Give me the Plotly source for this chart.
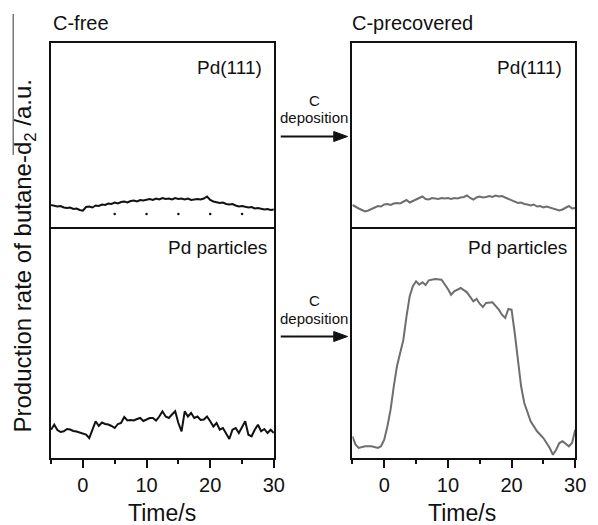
import plotly.graph_objects as go

# ---------------- data ----------------
t_half = [i * 0.5 - 5 for i in range(71)]  # -5 .. 30 s step 0.5

# C-free, Pd(111)  (black)
cfree_111 = [22, 21, 20.5, 21, 19.5, 19, 19.5, 18, 18.5, 17, 16.3, 20, 20.5, 19.5, 21.5, 21,
             22.5, 22, 23.5, 23, 24.5, 23.5, 25, 25.5, 24.5, 26, 26.5, 25.5, 27, 26.5, 27.5, 28,
             27, 28.5, 27.5, 29, 28, 28.5, 27.5, 29, 28, 28.5, 27.5, 28.5, 27, 27.5, 28, 27.5,
             28.5, 30.5, 27, 25.5, 25, 24, 24.5, 23, 22.5, 23, 21.5, 20.5, 21, 20, 19.5, 20,
             18.5, 19, 18.5, 17.5, 18, 17, 17.5]
dots_t = [5, 10, 15, 20, 25]
dots_v = [13, 13, 13, 13, 13]

# C-precovered, Pd(111)  (gray)
cpre_111 = [22, 20, 18.5, 17, 15.5, 16.5, 18, 19, 21, 20.5, 22.5, 23, 22, 23.5, 24, 23.5,
            25, 27, 24.5, 26, 27, 28.5, 30.5, 28, 27.5, 29, 28.5, 28, 29, 28.5, 29, 28,
            29, 28.5, 29.5, 30, 31.5, 29, 27.5, 29.5, 30.5, 29.5, 30, 31, 30, 31.5, 30.5, 31,
            29.5, 28, 26.5, 25.5, 24, 24.5, 23, 22.5, 21.5, 22.5, 20.5, 21, 19.5, 20.5, 19.5, 18,
            17, 16.5, 17.5, 19.5, 21, 18.5, 19]

# C-free, Pd particles  (black)
cfree_part = [28.3, 33.3, 28, 26, 26.7, 29, 28.5, 27, 26.5, 25.5, 25, 23.5, 20, 28, 36.7, 32,
              35.5, 34, 33.5, 32, 30, 34, 35, 41, 37.5, 38, 37.5, 39, 40, 37, 38.5, 40,
              40, 37.5, 41.5, 46.7, 41.5, 40, 43.5, 46.7, 35, 26.7, 46.7, 41.5, 45, 40, 41.5, 38,
              38.5, 41.5, 36.7, 31.5, 35, 28.3, 30, 24, 19, 28.3, 30, 25, 31.7, 36.7, 23.3, 21.7,
              28.3, 33.3, 26.7, 29, 25, 28.3, 25]

# C-precovered, Pd particles  (gray)
cpre_part_t = [-5, -4.5, -4, -3, -2, -1, -0.5, 0, 0.5, 1, 1.5, 2, 2.5, 3, 3.5, 4, 4.5, 5,
               5.5, 6, 6.5, 7, 8, 9, 10, 10.5, 11, 12, 13, 13.5, 14, 14.5, 15, 15.5, 16, 17,
               17.5, 18, 18.5, 19, 19.5, 20, 20.5, 21, 21.5, 22, 23, 24, 25, 26, 26.5, 27,
               27.5, 28, 29, 29.5, 30]
cpre_part = [21.7, 13.3, 10, 11.7, 11.7, 10, 11.7, 18.3, 31.7, 48.3, 71.7, 91.7, 105, 118,
             141.7, 161.7, 171.7, 176.7, 173.3, 175.7, 173, 177.7, 179, 178.3, 169, 163.3,
             166.7, 170, 165.7, 161.7, 156.7, 159, 154.3, 151, 155, 155.7, 152.3, 148.3,
             143.3, 140, 149, 148.3, 125, 95, 71.7, 55, 36.7, 26.7, 20, 10, 3.3, 8.3, 15,
             16.7, 11.7, 15, 28.3]

x_tickvals = [0, 10, 20, 30]
x_ticktext = ["0", "10", "20", "30"]

# ---------------- figure ----------------
W, H = 598, 525
FONT = "Liberation Sans, Arial, Helvetica, sans-serif"


def px(x):
    return x / W


def py(y):
    return 1 - y / H


XL = [px(52), px(279)]
XR = [px(359), px(586)]
YT = [py(227), py(43)]
YB = [py(458), py(227)]

BLACK = "#111111"
GRAY = "#6e6e6e"

fig = go.Figure()
fig.add_trace(go.Scatter(x=t_half, y=cfree_111, mode="lines", line=dict(color=BLACK, width=2),
                         xaxis="x", yaxis="y", showlegend=False))
fig.add_trace(go.Scatter(x=dots_t, y=dots_v, mode="markers", marker=dict(color=BLACK, size=2.5),
                         xaxis="x", yaxis="y", showlegend=False))
fig.add_trace(go.Scatter(x=t_half, y=cpre_111, mode="lines", line=dict(color=GRAY, width=2),
                         xaxis="x2", yaxis="y2", showlegend=False))
fig.add_trace(go.Scatter(x=t_half, y=cfree_part, mode="lines", line=dict(color=BLACK, width=2),
                         xaxis="x3", yaxis="y3", showlegend=False))
fig.add_trace(go.Scatter(x=cpre_part_t, y=cpre_part, mode="lines", line=dict(color=GRAY, width=2),
                         xaxis="x4", yaxis="y4", showlegend=False))

frame = dict(showline=True, linecolor=BLACK, linewidth=2, mirror=True, showgrid=False,
             zeroline=False)
top_x = dict(frame, range=[-5, 30], showticklabels=False, ticks="")
bot_x = dict(frame, mirror=False, range=[-5, 30], tickmode="array", tickvals=x_tickvals,
             ticktext=x_ticktext, ticks="outside", ticklen=8, tickwidth=1.5, tickcolor=BLACK,
             tickfont=dict(family=FONT, size=20, color=BLACK),
             minor=dict(tick0=-5, dtick=5, ticks="outside", ticklen=4, tickwidth=1.5,
                        tickcolor=BLACK, showgrid=False))
top_y = dict(frame, range=[0, 184], showticklabels=False, ticks="")
bot_y = dict(frame, range=[0, 231], showticklabels=False, ticks="")

fig.update_layout(
    width=W, height=H,
    margin=dict(l=0, r=0, t=0, b=0),
    paper_bgcolor="white", plot_bgcolor="white",
    font=dict(family=FONT, color=BLACK),
    xaxis=dict(top_x, domain=XL, anchor="y"),
    yaxis=dict(top_y, domain=YT, anchor="x"),
    xaxis2=dict(top_x, domain=XR, anchor="y2"),
    yaxis2=dict(top_y, domain=YT, anchor="x2"),
    xaxis3=dict(bot_x, domain=XL, anchor="y3"),
    yaxis3=dict(bot_y, domain=YB, anchor="x3"),
    xaxis4=dict(bot_x, domain=XR, anchor="y4"),
    yaxis4=dict(bot_y, domain=YB, anchor="x4"),
)

ann = []


def text(x, y, s, size, xanchor="center", yanchor="middle", angle=0):
    ann.append(dict(x=px(x), y=py(y), xref="paper", yref="paper", text=s, showarrow=False,
                    xanchor=xanchor, yanchor=yanchor, textangle=angle,
                    font=dict(family=FONT, size=size, color=BLACK)))


text(52, 23, "C-free", 20, xanchor="left")
text(357, 23, "C-precovered", 20, xanchor="left")
text(269, 67, "Pd(111)", 19, xanchor="right")
text(575, 67, "Pd(111)", 19, xanchor="right")
text(274, 248, "Pd particles", 19, xanchor="right")
text(580, 248, "Pd particles", 19, xanchor="right")
text(165, 513, "Time/s", 23)
text(471, 513, "Time/s", 23)
text(24, 256, "Production rate of butane-d<sub>2</sub> /a.u.", 24, angle=-90)

# arrows for "C deposition"
for yc, ya in [(100, 136.5), (300, 336.5)]:
    text(320, yc, "C", 15)
    text(320, yc + 18, "deposition", 15)
    fig.add_shape(type="line", xref="paper", yref="paper", x0=px(286), x1=px(342),
                  y0=py(ya), y1=py(ya), line=dict(color=BLACK, width=2))
    fig.add_shape(type="path", xref="paper", yref="paper",
                  path=f"M {px(340)} {py(ya - 5)} L {px(354)} {py(ya)} L {px(340)} {py(ya + 5)} Z",
                  fillcolor=BLACK, line=dict(color=BLACK, width=1))

fig.update_layout(annotations=ann)

fig.add_shape(type="line", xref="paper", yref="paper", x0=px(13.5), x1=px(13.5),
              y0=py(14), y1=py(155), line=dict(color="#777777", width=1.5))

fig.write_html(
    "out.html",
    config={"displayModeBar": False},
    post_script=(
        "document.documentElement.style.margin='0px';"
        "document.body.style.margin='0px';"
        "document.body.style.overflow='hidden';"
    ),
)
